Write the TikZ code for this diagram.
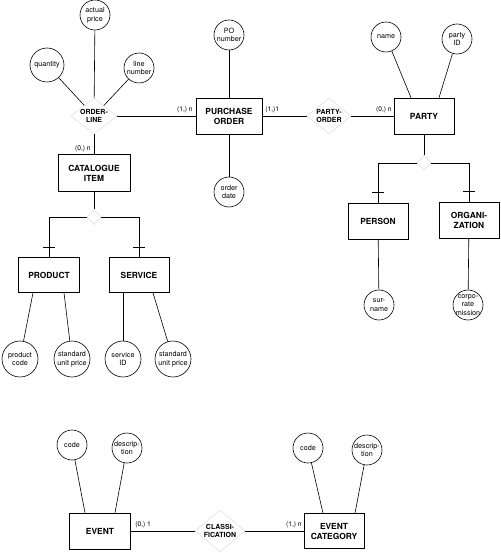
\documentclass[tikz,border=0pt]{standalone}
\usepackage{fontspec}
\setmainfont{TeX Gyre Heros}
\usetikzlibrary{shapes.geometric}
\begin{document}
\begin{tikzpicture}[x=1pt, y=-1pt, line width=.6pt,
  ent/.style={draw, minimum width=60, minimum height=36, align=center, font=\fontsize{8.4}{10}\selectfont\bfseries},
  attr/.style={draw, circle, minimum size=30, inner sep=0, align=center, font=\fontsize{7.2}{8.6}\selectfont},
  rel/.style={draw=black!12, shape=diamond, inner sep=-2pt, minimum width=46, minimum height=36, align=center, font=\fontsize{7}{8.4}\selectfont\bfseries},
  isa/.style={draw=black!12, shape=diamond, minimum width=14, minimum height=15, inner sep=0},
  card/.style={font=\fontsize{6.7}{7}\selectfont, inner sep=0}]
  \useasboundingbox (0,0) rectangle (500,553);
  % order part
  \node[rel] (ol) at (94,116) {ORDER-\\LINE};
  \node[attr] (aprice) at (95,15) {actual\\price};
  \node[attr, minimum size=34] (qty) at (47,65) {quantity};
  \node[attr] (lnum) at (139,68) {line\\number};
  \node[ent, minimum width=72, minimum height=37] (cat) at (94,173) {CATALOGUE\\ITEM};
  \node[ent, minimum width=66] (po) at (229,116) {PURCHASE\\ORDER};
  \node[attr] (ponum) at (229,35) {PO\\number};
  \node[attr] (odate) at (229,192) {order\\date};
  \node[rel, minimum width=44] (pord) at (329,116) {PARTY-\\ORDER};
  \node[ent] (party) at (424,116) {PARTY};
  \node[attr] (pname) at (386,37) {name};
  \node[attr] (pid) at (457,39) {party\\ID};
  \draw (qty) -- (ol);
  \draw (aprice) -- (ol);
  \draw (lnum) -- (ol);
  \draw (ol) -- (cat);
  \draw (ol) -- (po);
  \draw (ponum) -- (po);
  \draw (po) -- (odate);
  \draw (po) -- (pord);
  \draw (pord) -- (party);
  \draw (pname) -- ([xshift=-13]party.north);
  \draw (pid) -- ([xshift=15]party.north);
  \node[card, anchor=south east] at (91,152) {(0,) n};
  \node[card, anchor=south east] at (193,113) {(1,) n};
  \node[card, anchor=south west] at (265,113) {(1,)1};
  \node[card, anchor=south east] at (392,113) {(0,) n};
  % catalogue item subtypes
  \node[isa] (isa1) at (94,217) {};
  \node[ent, minimum width=61, minimum height=35] (product) at (49,275) {PRODUCT};
  \node[ent, minimum height=35] (service) at (139,275) {SERVICE};
  \node[attr, minimum size=36] (pcode) at (20,359) {product\\code};
  \node[attr, minimum size=36] (psup) at (72,359) {standard\\unit price};
  \node[attr, minimum size=36] (sid) at (123,359) {service\\ID};
  \node[attr, minimum size=36] (ssup) at (173,359) {standard\\unit price};
  \draw (cat) -- (isa1);
  \draw (isa1.west) -| (product.north);
  \draw (isa1.east) -| (service.north);
  \draw ([xshift=-6,yshift=10]product.north) -- ++(12,0);
  \draw ([xshift=-6,yshift=10]service.north) -- ++(12,0);
  \draw (pcode) -- ([xshift=-16]product.south);
  \draw (psup) -- ([xshift=15]product.south);
  \draw (sid) -- ([xshift=-16]service.south);
  \draw (ssup) -- ([xshift=14]service.south);
  % party subtypes
  \node[isa] (isa2) at (424,163) {};
  \node[ent] (person) at (378,221) {PERSON};
  \node[ent] (org) at (469,220) {ORGANI-\\ZATION};
  \node[attr] (sname) at (379,305) {sur-\\name};
  \node[attr, inner sep=-6pt] (corp) at (468,305) {corpo-\\rate\\mission};
  \draw (party) -- (isa2);
  \draw (isa2.west) -| (person.north);
  \draw (isa2.east) -| (org.north);
  \draw ([xshift=-6,yshift=10]person.north) -- ++(12,0);
  \draw ([xshift=-6,yshift=10]org.north) -- ++(12,0);
  \draw (person) -- (sname);
  \draw (org) -- (corp);
  % events
  \node[ent, minimum width=61] (event) at (100,531) {EVENT};
  \node[ent, minimum height=35] (ecat) at (334,531) {EVENT\\CATEGORY};
  \node[rel, minimum width=50, minimum height=42] (cls) at (220,531) {CLASSI-\\FICATION};
  \node[attr] (ecode) at (72,445) {code};
  \node[attr] (edesc) at (127,448) {descrip-\\tion};
  \node[attr] (ccode) at (308,448) {code};
  \node[attr] (cdesc) at (367,450) {descrip-\\tion};
  \draw (ecode) -- ([xshift=-15]event.north);
  \draw (edesc) -- ([xshift=15]event.north);
  \draw (ccode) -- ([xshift=-11]ecat.north);
  \draw (cdesc) -- ([xshift=21]ecat.north);
  \draw (event) -- (cls);
  \draw (cls) -- (ecat);
  \node[card, anchor=south west] at (135,528) {(0,) 1};
  \node[card, anchor=south east] at (302,528) {(1,) n};
\end{tikzpicture}
\end{document}
